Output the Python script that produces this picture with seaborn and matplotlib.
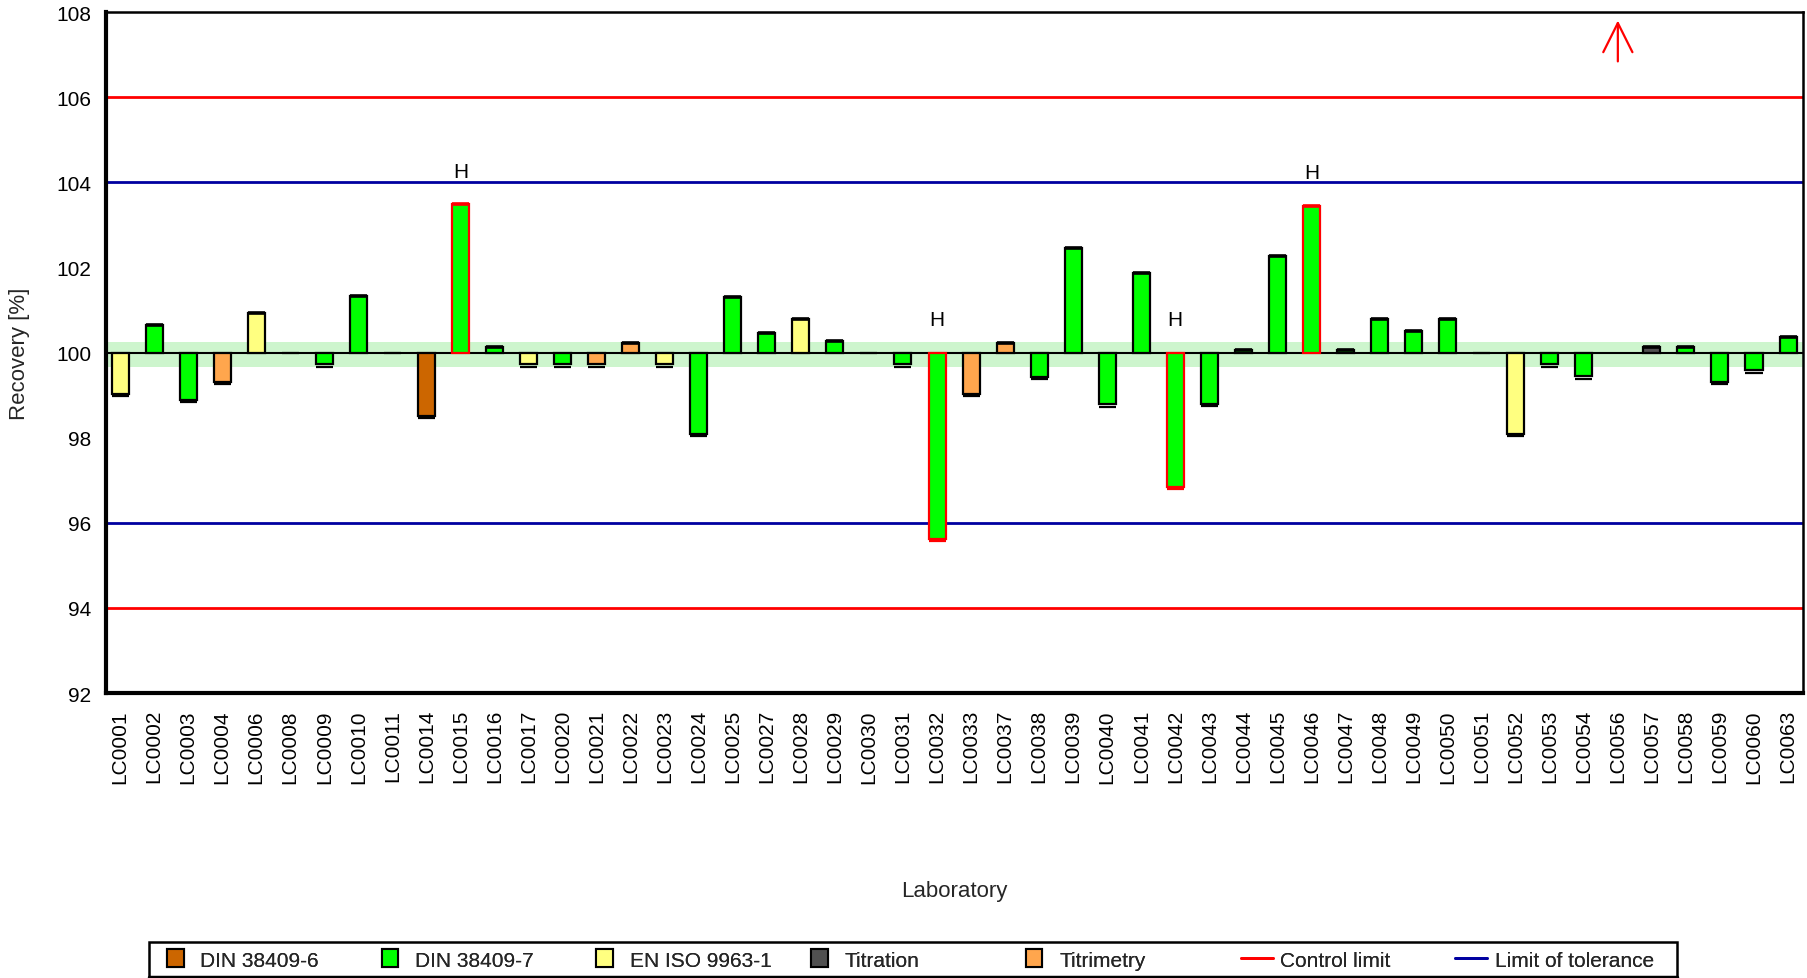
import numpy as np
import pandas as pd
import matplotlib
matplotlib.use("Agg")
import matplotlib.pyplot as plt
import seaborn as sns
from matplotlib.patches import Patch, Rectangle
from matplotlib.lines import Line2D

# Laboratories in reporting order
labs = ["LC0001", "LC0002", "LC0003", "LC0004", "LC0006", "LC0008", "LC0009", "LC0010",
        "LC0011", "LC0014", "LC0015", "LC0016", "LC0017", "LC0020", "LC0021", "LC0022",
        "LC0023", "LC0024", "LC0025", "LC0027", "LC0028", "LC0029", "LC0030", "LC0031",
        "LC0032", "LC0033", "LC0037", "LC0038", "LC0039", "LC0040", "LC0041", "LC0042",
        "LC0043", "LC0044", "LC0045", "LC0046", "LC0047", "LC0048", "LC0049", "LC0050",
        "LC0051", "LC0052", "LC0053", "LC0054", "LC0056", "LC0057", "LC0058", "LC0059",
        "LC0060", "LC0063"]

# Recovery in percent (NaN = result above the displayed range)
recovery = [99.03, 100.64, 98.88, 99.31, 100.92, 100.00, 99.72, 101.34,
            100.00, 98.52, 103.48, 100.13, 99.72, 99.72, 99.72, 100.23,
            99.72, 98.09, 101.30, 100.46, 100.79, 100.27, 100.00, 99.72,
            95.63, 99.02, 100.23, 99.43, 102.46, 98.78, 101.86, 96.85,
            98.79, 100.05, 102.27, 103.44, 100.05, 100.79, 100.51, 100.79,
            100.00, 98.09, 99.72, 99.44, np.nan, 100.13, 100.13, 99.30,
            99.58, 100.37]

D6, D7, ISO, TIT, TRM = "DIN 38409-6", "DIN 38409-7", "EN ISO 9963-1", "Titration", "Titrimetry"
method = [ISO, D7, D7, TRM, ISO, D7, D7, D7,
          D7, D6, D7, D7, ISO, D7, TRM, TRM,
          ISO, D7, D7, D7, ISO, D7, D7, D7,
          D7, TRM, TRM, D7, D7, D7, D7, D7,
          D7, D7, D7, D7, D7, D7, D7, D7,
          D7, ISO, D7, D7, D7, TIT, D7, D7,
          D7, D7]

flag_h = ["LC0015", "LC0032", "LC0042", "LC0046"]
above_range = ["LC0056"]

methods = [D6, D7, ISO, TIT, TRM]
method_colors = ["#CC6600", "#00FF00", "#FFFF80", "#505050", "#FFA64D"]
control_color = "#FF0000"
tolerance_color = "#0000A0"

target = 100
control_limits = [94, 106]
tolerance_limits = [96, 104]
target_band = [99.66, 100.25]
y_ticks = [92, 94, 96, 98, 100, 102, 104, 106, 108]

sns.set_style("white")
plt.rcParams["font.family"] = ["Liberation Sans", "DejaVu Sans"]

df = pd.DataFrame({"lab": labs, "recovery": recovery, "method": method})
df["deviation"] = df["recovery"] - target
plot_df = df.dropna(subset=["recovery"])

fig = plt.figure(figsize=(18.07, 9.79), dpi=100)
ax = fig.add_axes([0.0587, 0.291, 0.9391, 0.6957])

# target band and limit lines
ax.axhspan(target_band[0], target_band[1], color="#CDF5CD", lw=0, zorder=0)
for c in control_limits:
    ax.axhline(c, color=control_color, lw=2, zorder=1)
for t in tolerance_limits:
    ax.axhline(t, color=tolerance_color, lw=2, zorder=1)
ax.axhline(target, color="black", lw=1.5, zorder=1)

# recovery bars, drawn from the target value
n_before = len(ax.patches)
palette = dict(zip(methods, method_colors))
sns.barplot(data=plot_df, x="lab", y="deviation", hue="method", order=labs,
            hue_order=methods, palette=palette, dodge=False, width=0.5,
            bottom=target, edgecolor="black", linewidth=1.6, legend=False,
            saturation=1, errorbar=None, ax=ax, zorder=3)
bars = list(ax.patches)[n_before:]

pos = {lab: i for i, lab in enumerate(labs)}
h_idx = {pos[l] for l in flag_h}
for p in bars:
    center = p.get_x() + p.get_width() / 2
    is_h = int(round(center)) in h_idx
    edge = control_color if is_h else "black"
    if is_h:
        p.set_edgecolor(edge)
    # shaded end cap at the free end of each bar
    h = p.get_height()
    if not np.isfinite(h):
        continue
    end = p.get_y() + h
    if h < 0:
        ax.hlines(end - 0.05, p.get_x(), p.get_x() + p.get_width(),
                  color=edge, lw=1.6, zorder=3)
    elif h > 0:
        ax.hlines(end, p.get_x(), p.get_x() + p.get_width(),
                  color=edge, lw=2.6, zorder=3)

# "H" markers above flagged results
for lab in flag_h:
    v = df.loc[df["lab"] == lab, "recovery"].iloc[0]
    ax.text(pos[lab], max(v, target) + 0.78, "H", ha="center", va="center",
            fontsize=15, color="black", zorder=4)

# arrows for results beyond the upper axis limit
for lab in above_range:
    ax.annotate("", xy=(pos[lab], 107.8), xytext=(pos[lab], 106.84),
                arrowprops=dict(arrowstyle="->,head_length=2.1,head_width=1.05",
                                color=control_color, lw=1.6, shrinkA=0, shrinkB=0,
                                mutation_scale=10), zorder=4)

ax.set_ylim(92, 108)
ax.set_xlim(-0.41, len(labs) - 0.56)
ax.set_yticks(y_ticks)
ax.set_yticklabels([str(t) for t in y_ticks], fontsize=15)
ax.set_xticks(range(len(labs)))
ax.set_xticklabels(labs, rotation=90, fontsize=15)
ax.tick_params(axis="both", which="both", direction="out", length=7.5, width=1.5,
               color="#808080", labelcolor="black")
ax.tick_params(axis="y", pad=3)
ax.tick_params(axis="x", pad=4)

for side in ["left", "bottom"]:
    ax.spines[side].set_linewidth(3)
    ax.spines[side].set_color("black")
for side in ["top", "right"]:
    ax.spines[side].set_linewidth(1.8)
    ax.spines[side].set_color("black")
    ax.spines[side].set_visible(True)

ax.set_xlabel("Laboratory", fontsize=16)
ax.xaxis.set_label_coords(0.5, -0.274)
ax.set_ylabel("Recovery [%]", fontsize=16)
ax.yaxis.set_label_coords(-0.045, 0.5)

# legend: equally spaced entries inside one frame
W, H = 1807.0, 979.0
handles = [Patch(facecolor=c, edgecolor="black", linewidth=1.5) for c in method_colors]
handles += [Line2D([0], [0], color=control_color, lw=2),
            Line2D([0], [0], color=tolerance_color, lw=2)]
names = methods + ["Control limit", "Limit of tolerance"]
x_start = 167.0
pitch = 214.7
y_mid = 1 - 960.5 / H
for i, (hd, nm) in enumerate(zip(handles, names)):
    is_line = isinstance(hd, Line2D)
    lg = fig.legend([hd], [nm], loc="center left",
                    bbox_to_anchor=((x_start + i * pitch) / W, y_mid),
                    fontsize=15, frameon=False, borderpad=0, borderaxespad=0,
                    handlelength=1.54 if is_line else 0.8, handleheight=0.95,
                    handletextpad=0.38 if is_line else 0.8)
    fig.add_artist(lg)

fig.add_artist(Rectangle((149 / W, 1 - 978 / H), (1677 - 149) / W, 35 / H,
                         transform=fig.transFigure, fill=False, edgecolor="black",
                         linewidth=1.8, zorder=5))
fig.add_artist(Line2D([149 / W, 1677 / W], [1 - 977.5 / H, 1 - 977.5 / H],
                      transform=fig.transFigure, color="black", lw=2.5))

fig.savefig("out.png", dpi=100)
